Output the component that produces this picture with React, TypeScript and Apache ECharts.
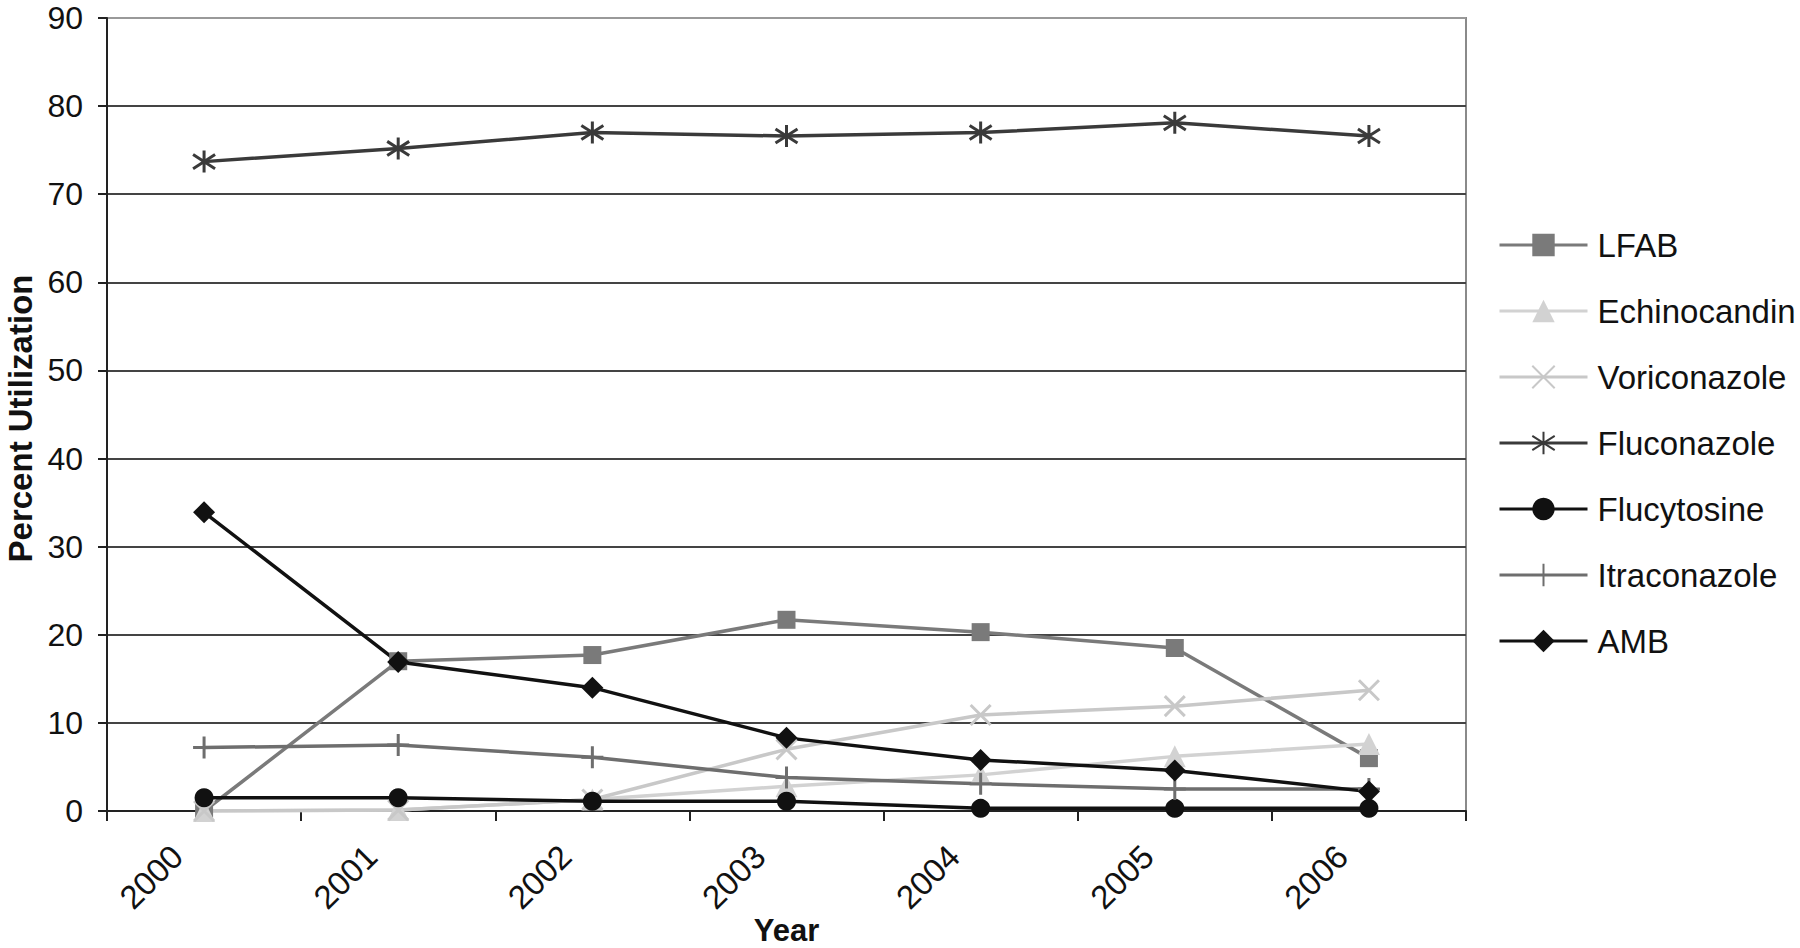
import React, { useEffect, useRef } from "react";
import * as echarts from "echarts";

const years = ["2000", "2001", "2002", "2003", "2004", "2005", "2006"];
const lfab = [0, 17.0, 17.7, 21.7, 20.3, 18.5, 6.0];
const echinocandin = [0, 0.1, 1.3, 2.8, 4.1, 6.2, 7.6];
const voriconazole = [0, 0.1, 1.3, 7.0, 10.9, 11.9, 13.7];
const fluconazole = [73.7, 75.2, 77.0, 76.6, 77.0, 78.1, 76.6];
const flucytosine = [1.5, 1.5, 1.1, 1.1, 0.3, 0.3, 0.3];
const itraconazole = [7.2, 7.5, 6.1, 3.8, 3.1, 2.5, 2.5];
const amb = [33.9, 16.9, 14.0, 8.3, 5.8, 4.6, 2.2];
const yTicks = { min: 0, max: 90, interval: 10 };

const FONT = "'Liberation Sans', Arial, sans-serif";

const X_PATH = "path://M0,0L10,10M10,0L0,10";
const STAR_PATH = "path://M5,0L5,10M1,1.8L9,8.2M1,8.2L9,1.8";
const PLUS_PATH = "path://M5,0L5,10M0,5L10,5";

function mk(
  name: string,
  data: number[],
  color: string,
  symbol: string,
  symbolSize: number,
  stroke: boolean
) {
  return {
    name,
    type: "line",
    data,
    symbol,
    symbolSize,
    showSymbol: true,
    lineStyle: { color, width: 3.5 },
    itemStyle: stroke
      ? { color: color, borderColor: color, borderWidth: 3 }
      : { color, borderWidth: 0 },
    emphasis: { disabled: true },
  };
}

export default function App() {
  const ref = useRef<HTMLDivElement>(null);
  useEffect(() => {
    if (!ref.current) return;
    const chart = echarts.init(ref.current, undefined, { renderer: "svg" });
    chart.setOption({
      animation: false,
      backgroundColor: "#ffffff",
      textStyle: { fontFamily: FONT },
      grid: {
        left: 107,
        right: 334,
        top: 18,
        bottom: 137,
        outerBoundsMode: "none",
        containLabel: false,
        show: true,
        borderColor: "#8a8a8a",
        borderWidth: 2,
        backgroundColor: "transparent",
      },
      legend: {
        orient: "vertical",
        left: 1493,
        top: 220,
        itemWidth: 88,
        itemHeight: 28,
        itemGap: 26,
        lineStyle: { width: 3 },
        textStyle: {
          fontFamily: FONT,
          fontSize: 33,
          color: "#111",
          lineHeight: 40,
          padding: [0, 0, 0, 5],
        },
        data: [
          "LFAB",
          "Echinocandin",
          "Voriconazole",
          "Fluconazole",
          "Flucytosine",
          "Itraconazole",
          "AMB",
        ],
      },
      xAxis: {
        type: "category",
        data: years,
        boundaryGap: true,
        name: "Year",
        nameLocation: "middle",
        nameGap: 103,
        nameMoveOverlap: false,
        nameTextStyle: {
          fontFamily: FONT,
          fontSize: 31,
          lineHeight: 32,
          fontWeight: "bold",
          color: "#111",
        },
        axisLine: { show: true, lineStyle: { color: "#222", width: 2 } },
        axisTick: {
          show: true,
          length: 10,
          interval: 0,
          lineStyle: { color: "#222", width: 2 },
        },
        axisLabel: {
          interval: 0,
          rotate: 45,
          fontFamily: FONT,
          fontSize: 33,
          color: "#111",
          margin: 13,
          padding: [0, 38, 0, 0],
        },
        splitLine: { show: false },
      },
      yAxis: {
        type: "value",
        min: yTicks.min,
        max: yTicks.max,
        interval: yTicks.interval,
        name: "Percent Utilization",
        nameLocation: "middle",
        nameGap: 73,
        nameMoveOverlap: false,
        nameTextStyle: {
          fontFamily: FONT,
          fontSize: 33,
          lineHeight: 28,
          fontWeight: "bold",
          color: "#111",
          padding: [0, 8, 0, 0],
        },
        axisLine: { show: true, lineStyle: { color: "#222", width: 2 } },
        axisTick: {
          show: true,
          length: 9,
          lineStyle: { color: "#222", width: 2 },
        },
        axisLabel: {
          fontFamily: FONT,
          fontSize: 32,
          lineHeight: 30,
          color: "#111",
          margin: 24,
        },
        splitLine: {
          show: true,
          lineStyle: {
            color: [
              "#333",
              "#444",
              "#444",
              "#444",
              "#444",
              "#444",
              "#444",
              "#444",
              "#444",
              "#999",
            ],
            width: 2,
          },
        },
      },
      series: [
        mk("LFAB", lfab, "#7a7a7a", "rect", 18, false),
        mk("Echinocandin", echinocandin, "#d2d2d2", "triangle", 22, false),
        mk("Voriconazole", voriconazole, "#c8c8c8", X_PATH, 20, true),
        mk("Fluconazole", fluconazole, "#3a3a3a", STAR_PATH, 22, true),
        mk("Flucytosine", flucytosine, "#111111", "circle", 19, false),
        mk("Itraconazole", itraconazole, "#6e6e6e", PLUS_PATH, 22, true),
        mk("AMB", amb, "#111111", "diamond", 22, false),
      ],
    });
    return () => chart.dispose();
  }, []);
  return (
    <div
      ref={ref}
      style={{
        position: "absolute",
        left: 0,
        top: 0,
        width: 1800,
        height: 948,
        background: "#fff",
      }}
    />
  );
}
